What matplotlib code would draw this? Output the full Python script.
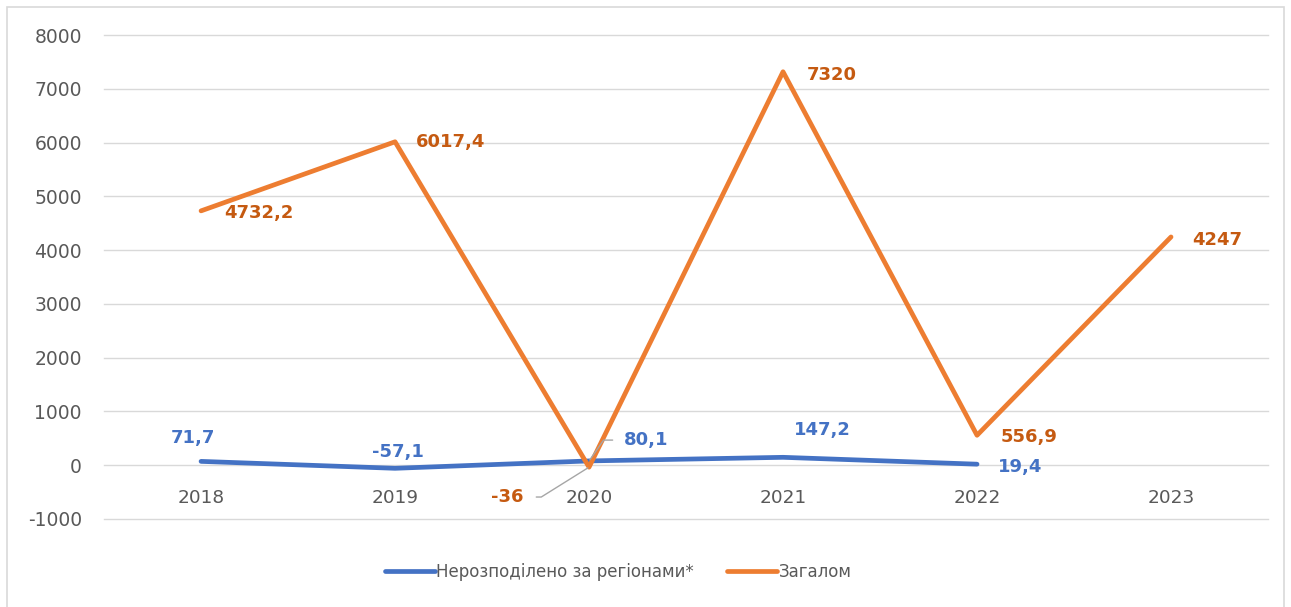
import matplotlib
matplotlib.use("Agg")
import matplotlib.pyplot as plt
from matplotlib.patches import Rectangle

years = ["2018", "2019", "2020", "2021", "2022", "2023"]
unallocated = [71.7, -57.1, 80.1, 147.2, 19.4]
total = [4732.2, 6017.4, -36, 7320, 556.9, 4247]
unallocated_name = "Нерозподілено за регіонами*"
total_name = "Загалом"

BLUE = "#4472C4"
ORANGE = "#ED7D31"
ORANGE_TXT = "#C55A11"
GRID = "#D9D9D9"
TXT = "#595959"
LEADER = "#A6A6A6"

plt.rcParams["font.family"] = ["DejaVu Sans"]
plt.rcParams["axes.unicode_minus"] = False

fig = plt.figure(figsize=(12.91, 6.07), dpi=100)
ax = fig.add_axes([0.0806, 0.145, 0.9016, 0.797])
fig.patches.append(Rectangle((0.0054, -0.01), 0.9892, 0.9985, transform=fig.transFigure,
                             fill=False, edgecolor=GRID, linewidth=1.2))

x_all = list(range(len(years)))
ax.plot(x_all[:len(unallocated)], unallocated, color=BLUE, lw=3.4, solid_capstyle="round",
        label=unallocated_name, zorder=3)
ax.plot(x_all, total, color=ORANGE, lw=3.4, solid_capstyle="round", label=total_name, zorder=3)

ax.set_xlim(-0.5, len(years) - 0.5)
ax.set_ylim(-1000, 8000)
ax.set_yticks(range(-1000, 8001, 1000))
ax.grid(axis="y", color=GRID, lw=1)
for gl in ax.get_ygridlines():
    gl.set_clip_on(False)
ax.set_axisbelow(True)
for s in ["top", "right", "left"]:
    ax.spines[s].set_visible(False)
# category labels sit just under the zero line
ax.spines["bottom"].set_position(("data", 0))
ax.spines["bottom"].set_visible(False)
ax.set_xticks(x_all)
ax.set_xticklabels(years)
ax.tick_params(axis="x", length=0, pad=17, labelsize=13.3, labelcolor=TXT)
ax.tick_params(axis="y", length=0, pad=16, labelsize=13.5, labelcolor=TXT)

# label offsets (points) and alignment
blue_offs = [(-6, 17, "center"), (2, 11.5, "center"), (25, 15, "left"), (28, 19.5, "center"),
             (15, -2, "left")]
orange_offs = [(17, -1.5, "left"), (15, -0.5, "left"), (-47, -21.5, "right"), (17, -2, "left"),
               (17, -1.5, "left"), (15, -2, "left")]


def fmt(v):
    return f"{v:g}".replace(".", ",")


for i, v in enumerate(unallocated):
    dx, dy, ha = blue_offs[i]
    kw = {}
    if i == 2:
        kw["arrowprops"] = dict(arrowstyle="-", color=LEADER, lw=1, shrinkA=6, shrinkB=1,
                                relpos=(0, 0.5),
                                connectionstyle="angle,angleA=180,angleB=55,rad=0")
    ax.annotate(fmt(v), (i, v), xytext=(dx, dy), textcoords="offset points",
                ha=ha, va="center", color=BLUE, fontsize=13, fontweight="bold", **kw)

for i, v in enumerate(total):
    dx, dy, ha = orange_offs[i]
    kw = {}
    if i == 2:
        kw["arrowprops"] = dict(arrowstyle="-", color=LEADER, lw=1, shrinkA=7, shrinkB=1,
                                relpos=(1, 0.5),
                                connectionstyle="angle,angleA=0,angleB=32,rad=0")
    ax.annotate(fmt(v), (i, v), xytext=(dx, dy), textcoords="offset points",
                ha=ha, va="center", color=ORANGE_TXT, fontsize=13, fontweight="bold", **kw)

leg = fig.legend(loc="center", bbox_to_anchor=(0.479, 0.058), ncol=2, frameon=False,
                 fontsize=12, handlelength=3.0, handletextpad=0.1, columnspacing=2.0)
for t in leg.get_texts():
    t.set_color(TXT)

fig.savefig("out.png", dpi=100)
